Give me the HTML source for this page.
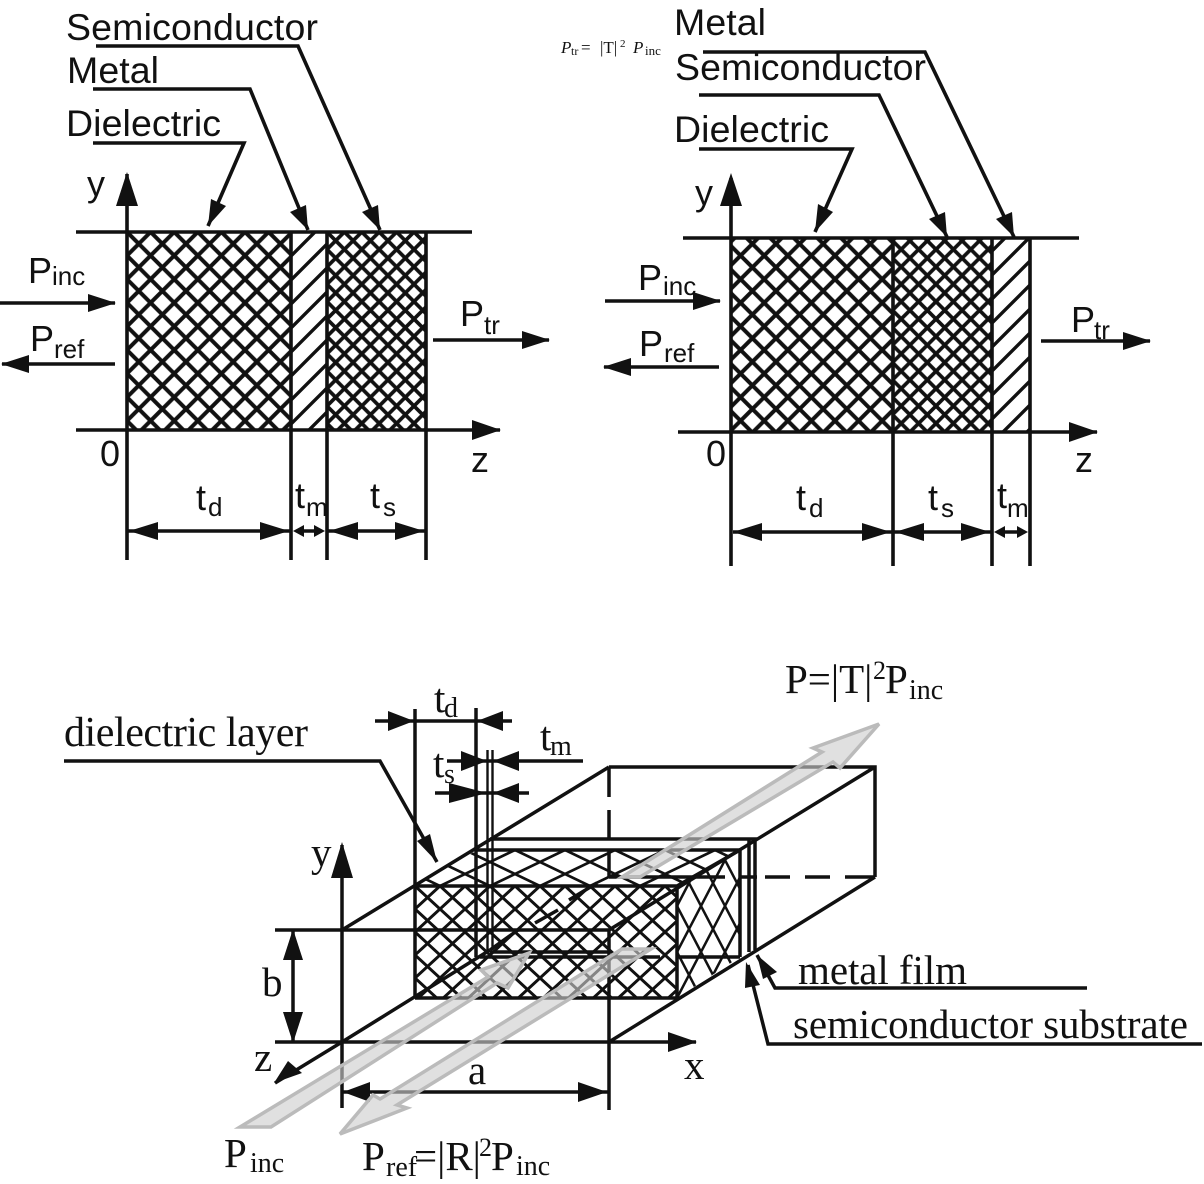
<!DOCTYPE html>
<html><head><meta charset="utf-8"><style>
html,body{margin:0;padding:0;background:#fff}svg{display:block}
.s{font-family:"Liberation Sans",sans-serif;fill:#111}
.r{font-family:"Liberation Serif",serif;fill:#111}
</style></head><body>
<svg width="1204" height="1184" viewBox="0 0 1204 1184" xmlns="http://www.w3.org/2000/svg">
<defs>
<pattern id="d" patternUnits="userSpaceOnUse" width="23.6" height="23.6" x="127" y="232"><path d="M-2,2 L2,-2 M0,23.6 L23.6,0 M21.6,25.6 L25.6,21.6 M-2,21.6 L2,25.6 M0,0 L23.6,23.6 M21.6,-2 L25.6,2" stroke="#111" stroke-width="4"/></pattern>
<pattern id="e" patternUnits="userSpaceOnUse" width="17.4" height="17.4" x="327" y="232"><path d="M-2,2 L2,-2 M0,17.4 L17.4,0 M15.4,19.4 L19.4,15.4 M-2,15.4 L2,19.4 M0,0 L17.4,17.4 M15.4,-2 L19.4,2" stroke="#111" stroke-width="3.7"/></pattern>
<pattern id="m" patternUnits="userSpaceOnUse" width="24" height="24" x="291" y="232"><path d="M-2,2 L2,-2 M0,24 L24,0 M22,26 L26,22" stroke="#111" stroke-width="3.4"/></pattern>
<pattern id="f" patternUnits="userSpaceOnUse" width="25" height="23"  x="415" y="886"><path d="M0,23 L25,0 M0,0 L25,23" stroke="#111" stroke-width="3"/></pattern>
<pattern id="t" patternUnits="userSpaceOnUse" width="50" height="24" x="415" y="850"><path d="M0,24 L50,0 M0,0 L50,24" stroke="#111" stroke-width="2.7"/></pattern>
<pattern id="sd" patternUnits="userSpaceOnUse" width="24" height="46" x="677" y="860"><path d="M0,46 L24,0 M0,0 L24,46" stroke="#111" stroke-width="2.5"/></pattern>
</defs>

<!-- left diagram -->
<rect x="127" y="232" width="164" height="198" fill="url(#d)"/>
<rect x="291" y="232" width="36" height="198" fill="url(#m)"/>
<rect x="327" y="232" width="99" height="198" fill="url(#e)"/>
<g stroke="#111" stroke-width="3.6" fill="none">
<path d="M76,232H472M76,430H500" />
<path d="M127,560V174M291,232V560M327,232V560M426,232V560"/>
<path d="M96,46H298L380,230" /><path d="M93,89H250L308,230"/><path d="M93,143H244L208,226"/>
<path d="M0,303H115M115,364H2M433,340H549"/>
<path d="M127,531H291M327,531H426"/><path d="M298,531H320"/>
</g>
<g fill="#111">
<path d="M127,172L116,206H138Z"/><path d="M501,430L472,420V440Z"/>
<path d="M380,230L362,212L378,205Z"/><path d="M308,230L290,212L306,205Z"/><path d="M208,226L211,199L226,206Z"/>
<path d="M116,303L88,294V312Z"/><path d="M1,364L29,355V373Z"/><path d="M550,340L522,331V349Z"/>
<path d="M129,531L158,522V540Z"/><path d="M289,531L260,522V540Z"/><path d="M329,531L358,522V540Z"/><path d="M424,531L395,522V540Z"/>
<path d="M293,531L304,525V537Z"/><path d="M325,531L314,525V537Z"/>
</g>
<g class="s" font-size="37.5">
<text x="66" y="40" textLength="252">Semiconductor</text>
<text x="67" y="83" textLength="92">Metal</text>
<text x="66" y="136" textLength="155">Dielectric</text>
<text x="674" y="35" textLength="92">Metal</text>
<text x="675" y="80" textLength="251">Semiconductor</text>
<text x="674" y="142" textLength="155">Dielectric</text>
</g>
<g class="s" font-size="36">
<text x="87" y="196">y</text><text x="100" y="466">0</text><text x="471" y="472">z</text>
<text x="28" y="283">P</text><text x="30" y="351">P</text><text x="460" y="326">P</text>
<text x="196" y="510">t</text><text x="295" y="508">t</text><text x="370" y="508">t</text>
<text x="695" y="205">y</text><text x="706" y="466">0</text><text x="1075" y="472">z</text>
<text x="638" y="290">P</text><text x="639" y="356">P</text><text x="1071" y="332">P</text>
<text x="796" y="510">t</text><text x="928" y="510">t</text><text x="997" y="508">t</text>
</g>
<g class="s" font-size="26">
<text x="52" y="285">inc</text><text x="54" y="358">ref</text><text x="484" y="334">tr</text>
<text x="208" y="516">d</text><text x="306" y="516">m</text><text x="383" y="516">s</text>
<text x="663" y="295">inc</text><text x="664" y="362">ref</text><text x="1094" y="339">tr</text>
<text x="809" y="517">d</text><text x="941" y="517">s</text><text x="1007" y="517">m</text>
</g>

<!-- right diagram -->
<rect x="731" y="238" width="162" height="194" fill="url(#d)"/>
<rect x="893" y="238" width="99" height="194" fill="url(#e)"/>
<rect x="992" y="238" width="38" height="194" fill="url(#m)"/>
<g stroke="#111" stroke-width="3.6" fill="none">
<path d="M683,238H1079M678,432H1097"/>
<path d="M731,178V566M893,238V566M992,238V566M1030,238V566"/>
<path d="M703,52H925L1014,237"/><path d="M699,95H879L947,237"/><path d="M699,149H852L815,232"/>
<path d="M605,301H720M719,367H604M1041,341H1150"/>
<path d="M733,532H893M893,532H992M1000,532H1024"/>
</g>
<g fill="#111">
<path d="M731,173L720,206H742Z"/><path d="M1098,432L1069,422V442Z"/>
<path d="M1014,237L996,219L1012,212Z"/><path d="M947,237L929,219L945,212Z"/><path d="M815,232L818,204L833,212Z"/>
<path d="M721,301L693,292V310Z"/><path d="M603,367L631,358V376Z"/><path d="M1151,341L1123,332V350Z"/>
<path d="M733,532L762,523V541Z"/><path d="M891,532L862,523V541Z"/><path d="M895,532L924,523V541Z"/><path d="M990,532L961,523V541Z"/>
<path d="M994,532L1005,526V538Z"/><path d="M1028,532L1017,526V538Z"/>
</g>
<g class="r">
<text x="561" y="53" font-size="17" font-style="italic">P</text>
<text x="571" y="55" font-size="12">tr</text>
<text x="581" y="53" font-size="17">=</text>
<text x="600" y="53" font-size="17">|T|</text>
<text x="620" y="47" font-size="11">2</text>
<text x="633" y="53" font-size="17" font-style="italic">P</text>
<text x="645" y="55" font-size="13">inc</text>
</g>

<!-- bottom diagram -->
<polygon points="415,886 477,850 740,850 677,886" fill="url(#t)"/>
<polygon points="677,886 740,850 740,957 677,998" fill="url(#sd)"/>
<rect x="415" y="886" width="262" height="112" fill="url(#f)"/>
<g stroke="#111" stroke-width="3.5" fill="none">
<path d="M415,709V998M476,708V957"/>
<path d="M487.5,750V950M492.5,750V950" stroke-width="2.4"/>
<path d="M375,721H512M447,761H583M435,793H529"/>
<path d="M64,761H380L437,862"/>
<path d="M609,767H875V877M609,767L342,930M875,767L609,930"/>
<path d="M490,839H757M477,850H740M740,850V957M749,840V952M755,839V950"/>
<path d="M415,886H677V998H415M677,886L740,850M875,877L609,1042"/>
<path d="M342,930H609M342,1042L490,950M490,952H610M480,957H660M677,957H740"/>
<path d="M609,930V1110M342,845V1108"/>
<path d="M609,767V797M609,810V840M609,850V877M609,877H725M740,877H757M765,877H790M805,877H830M845,877H875"/>
<path d="M518,930L490,950M535,923L558,910M569,900L597,883"/>
<path d="M275,930H342M275,1042H696M293,930V1042"/>
<path d="M342,1042L275,1083M342,1092H608"/>
<path d="M1087,988H775L757,955M1202,1044H768L748,965"/>
</g>
<g fill="#111">
<path d="M437,862L417,841L430,834Z"/>
<path d="M414,721L388,711V731Z"/><path d="M477,721L503,711V731Z"/>
<path d="M487,761L461,751V771Z"/><path d="M493,761L519,751V771Z"/>
<path d="M487,793L449,783V803Z"/><path d="M493,793L519,783V803Z"/>
<path d="M342,842L331,878H353Z"/><path d="M697,1042L668,1032V1052Z"/>
<path d="M293,929L283,960H303Z"/><path d="M293,1043L283,1012H303Z"/>
<path d="M274,1083L288,1061L302,1073Z"/>
<path d="M343,1092L370,1082V1102Z"/><path d="M607,1092L578,1082V1102Z"/>
<path d="M757,955L777,972L763,979Z"/><path d="M746,962L745,988L760,985Z"/>
</g>
<g fill="rgba(205,205,205,.62)" stroke="#bbb" stroke-width="3.5" stroke-linejoin="miter">
<polygon points="240,1127 271,1127 497,983 508,988 529,953 481,970 488,977"/>
<polygon points="340,1134 407,1108 397,1105 651,949 622,949 380,1099 373,1095"/>
<polygon points="622,877 640,877 833,762 840,768 879,724 813,748 822,752"/>
</g>
<g class="r" font-size="41">
<text x="64" y="746" font-size="42" textLength="244">dielectric layer</text>
<text x="311" y="866">y</text><text x="262" y="996">b</text><text x="254" y="1071">z</text>
<text x="468" y="1084">a</text><text x="684" y="1079">x</text>
<text x="434" y="712">t</text><text x="540" y="750">t</text><text x="433" y="777">t</text>
<text x="798" y="984" textLength="169">metal film</text>
<text x="793" y="1038" textLength="395">semiconductor substrate</text>
<text x="785" y="693">P=|T|</text><text x="873" y="679" font-size="26">2</text><text x="885" y="693">P</text>
<text x="224" y="1167">P</text>
<text x="362" y="1170">P</text><text x="414" y="1170">=|R|</text><text x="479" y="1156" font-size="26">2</text><text x="491" y="1170">P</text>
</g>
<g class="r" font-size="28">
<text x="444" y="717">d</text><text x="550" y="755">m</text><text x="444" y="783">s</text>
<text x="909" y="699">inc</text><text x="250" y="1172">inc</text><text x="386" y="1176">ref</text><text x="516" y="1175">inc</text>
</g>
</svg>
</body></html>
